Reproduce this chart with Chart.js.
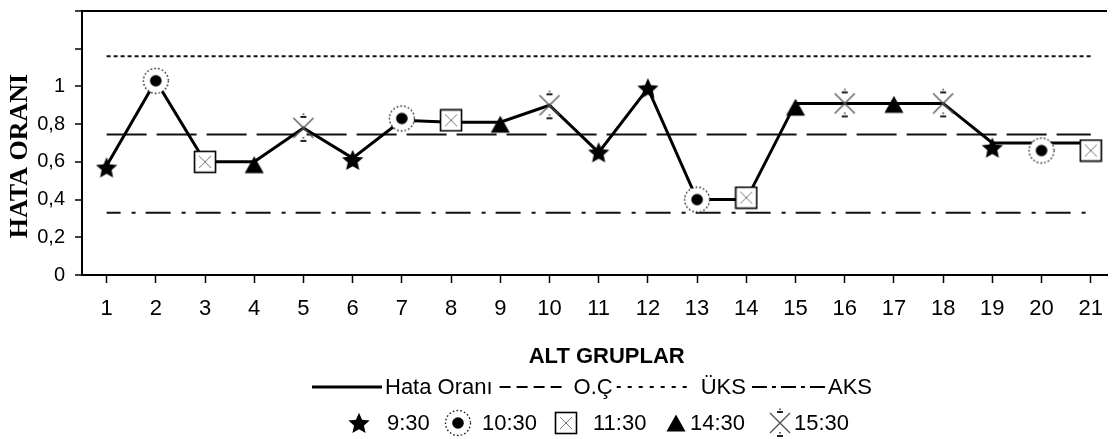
<!DOCTYPE html>
<html>
<head>
<meta charset="utf-8">
<script src="https://cdn.jsdelivr.net/npm/chart.js@4.4.1/dist/chart.umd.min.js"></script>
<style>
html,body{margin:0;padding:0;background:#fff;}
#c{display:block;}
</style>
</head>
<body>
<canvas id="c" width="1118" height="439"></canvas>
<script>
// ---- DATA ----
const groups = [1,2,3,4,5,6,7,8,9,10,11,12,13,14,15,16,17,18,19,20,21];
const hataOrani = [0.58,1.03,0.60,0.60,0.78,0.62,0.82,0.81,0.81,0.90,0.65,0.99,0.40,0.40,0.91,0.91,0.91,0.91,0.70,0.70,0.70];
const ortaCizgi = 0.745;   // O.Ç
const ustKontrol = 1.16;   // ÜKS
const altKontrol = 0.33;   // AKS
const refRange = [1, 21];

const g930  = [1, 6, 11, 12, 19];
const v930  = [0.57, 0.61, 0.65, 0.99, 0.675];
const g1030 = [2, 7, 13, 20];
const v1030 = [1.03, 0.83, 0.40, 0.66];
const g1130 = [3, 8, 14, 21];
const v1130 = [0.60, 0.82, 0.41, 0.66];
const g1430 = [4, 9, 15, 17];
const v1430 = [0.585, 0.80, 0.89, 0.905];
const g1530 = [5, 10, 16, 18];
const v1530 = [0.78, 0.90, 0.91, 0.91];

const yTicks = [0, 0.2, 0.4, 0.6, 0.8, 1];

// ---- MARKER IMAGES ----
function mk(w, h, draw) {
  const c = document.createElement('canvas');
  c.width = w; c.height = h;
  const g = c.getContext('2d');
  draw(g, w / 2, h / 2);
  return c;
}
const starImg = mk(24, 24, (g, cx, cy) => {
  g.beginPath();
  for (let i = 0; i < 10; i++) {
    const r = i % 2 ? 5.2 : 11.2;
    const a = -Math.PI / 2 + i * Math.PI / 5;
    g.lineTo(cx + r * Math.cos(a), cy + 1 + r * Math.sin(a));
  }
  g.closePath(); g.fillStyle = '#000'; g.fill();
});
const circImg = mk(30, 30, (g, cx, cy) => {
  g.beginPath(); g.arc(cx, cy, 12.5, 0, 2 * Math.PI); g.fillStyle = '#fff'; g.fill();
  g.setLineDash([1.6, 2.2]); g.lineWidth = 1.3; g.strokeStyle = '#111'; g.stroke();
  g.setLineDash([]);
  g.beginPath(); g.arc(cx, cy, 5.8, 0, 2 * Math.PI); g.fillStyle = '#000'; g.fill();
});
const sqImg = mk(24, 24, (g, cx, cy) => {
  g.fillStyle = '#fff'; g.fillRect(1.5, 1.5, 21, 21);
  g.strokeStyle = '#000'; g.lineWidth = 1.6; g.strokeRect(1.5, 1.5, 21, 21);
  g.strokeStyle = '#777'; g.lineWidth = 1;
  g.beginPath(); g.moveTo(6, 6); g.lineTo(18, 18); g.moveTo(18, 6); g.lineTo(6, 18); g.stroke();
});
const triImg = mk(22, 20, (g, cx, cy) => {
  g.beginPath(); g.moveTo(cx, 1.5); g.lineTo(20.5, 18.5); g.lineTo(1.5, 18.5); g.closePath();
  g.fillStyle = '#000'; g.fill();
});
const xImg = mk(26, 32, (g, cx, cy) => {
  g.strokeStyle = '#555'; g.lineWidth = 1.4;
  g.beginPath(); g.moveTo(cx - 10, cy - 10); g.lineTo(cx + 10, cy + 10);
  g.moveTo(cx + 10, cy - 10); g.lineTo(cx - 10, cy + 10); g.stroke();
  g.strokeStyle = '#222'; g.lineWidth = 2;
  g.beginPath(); g.moveTo(cx - 3, cy - 11); g.lineTo(cx + 3, cy - 11);
  g.moveTo(cx - 3, cy + 13); g.lineTo(cx + 3, cy + 13); g.stroke();
  g.fillStyle = '#444';
  g.fillRect(cx - 0.8, cy - 14.5, 1.6, 1.6);
  g.fillRect(cx - 0.8, cy + 9, 1.6, 1.6);
});

const F = '"Liberation Sans Narrow", "Arial Narrow", "Liberation Sans", Arial, sans-serif';

function pts(xs, ys) { return xs.map((x, i) => ({ x: x, y: ys[i] })); }
function hline(v) { return refRange.map(x => ({ x: x, y: v })); }

function markerSet(label, xs, ys, img) {
  return { label: label, data: pts(xs, ys), showLine: false, pointStyle: img,
           pointRadius: 10, pointHoverRadius: 10, order: 0, borderColor: '#000', backgroundColor: '#000' };
}

const datasets = [
  markerSet('9:30', g930, v930, starImg),
  markerSet('10:30', g1030, v1030, circImg),
  markerSet('11:30', g1130, v1130, sqImg),
  markerSet('14:30', g1430, v1430, triImg),
  markerSet('15:30', g1530, v1530, xImg),
  { label: 'Hata Oranı', data: pts(groups, hataOrani), borderColor: '#000', borderWidth: 3,
    pointRadius: 0, tension: 0, order: 1, fill: false },
  { label: 'O.Ç', data: hline(ortaCizgi), borderColor: '#111', borderWidth: 2, borderDash: [40, 10],
    pointRadius: 0, order: 2, fill: false },
  { label: 'ÜKS', data: hline(ustKontrol), borderColor: '#111', borderWidth: 2, borderDash: [4, 3],
    pointRadius: 0, order: 2, fill: false },
  { label: 'AKS', data: hline(altKontrol), borderColor: '#111', borderWidth: 2, borderDash: [25, 11, 4, 10],
    borderDashOffset: 11, pointRadius: 0, order: 2, fill: false }
];

const legendPlugin = {
  id: 'customLegend',
  afterDraw(chart) {
    const ctx = chart.ctx;
    ctx.save();
    ctx.fillStyle = '#000';
    ctx.strokeStyle = '#000';
    ctx.font = '22px ' + F;
    ctx.textBaseline = 'middle';
    ctx.textAlign = 'left';
    // row 1: line styles
    const row1 = [
      { label: 'Hata Oranı', dash: [], lw: 3, len: 70, gapA: 3, gapB: 7 },
      { label: 'O.Ç', dash: [11, 6], lw: 2, len: 67, gapA: 7, gapB: 4 },
      { label: 'ÜKS', dash: [4, 7], lw: 2, len: 76, gapA: 8, gapB: 6 },
      { label: 'AKS', dash: [15, 5, 4, 5], lw: 2, len: 73, gapA: 3, gapB: 0 }
    ];
    let x = 312; const y1 = 387;
    row1.forEach(it => {
      ctx.beginPath(); ctx.setLineDash(it.dash); ctx.lineWidth = it.lw;
      ctx.moveTo(x, y1); ctx.lineTo(x + it.len, y1); ctx.stroke();
      ctx.setLineDash([]);
      x += it.len + it.gapA;
      ctx.fillText(it.label, x, y1 + 1);
      x += ctx.measureText(it.label).width + it.gapB;
    });
    // row 2: markers
    const y2 = 423;
    const row2 = [
      { label: '9:30', img: starImg, cx: 359, tx: 387 },
      { label: '10:30', img: circImg, cx: 458, tx: 482 },
      { label: '11:30', img: sqImg, cx: 566, tx: 593 },
      { label: '14:30', img: triImg, cx: 676, tx: 690 },
      { label: '15:30', img: xImg, cx: 780, tx: 794 }
    ];
    row2.forEach(it => {
      ctx.drawImage(it.img, Math.round(it.cx - it.img.width / 2), Math.round(y2 - it.img.height / 2));
      ctx.fillText(it.label, it.tx, y2 + 1);
    });
    ctx.restore();
  }
};

new Chart(document.getElementById('c'), {
  type: 'line',
  data: { datasets: datasets },
  plugins: [legendPlugin],
  options: {
    responsive: false,
    animation: false,
    layout: { padding: { top: 9, right: 0, left: 0, bottom: 70 } },
    plugins: { legend: { display: false }, tooltip: { enabled: false } },
    scales: {
      x: {
        type: 'linear', min: 0.5, max: 21.33,
        ticks: { stepSize: 1, autoSkip: false, includeBounds: false, maxRotation: 0, padding: 13,
                 color: '#000', font: { family: F, size: 22 } },
        grid: { drawOnChartArea: false, tickLength: 8, tickColor: '#000', tickWidth: 1.5 },
        border: { color: '#000', width: 2 },
        title: { display: true, text: '    ALT GRUPLAR', color: '#000',
                 font: { family: F, size: 22, weight: 'bold', lineHeight: 1 }, padding: { top: 0, bottom: 1 } },
        afterFit(s) { s.height = 94; s.paddingLeft = 0; s.paddingRight = 0; }
      },
      y: {
        type: 'linear', min: 0, max: 1.4,
        ticks: { stepSize: 0.2, autoSkip: false, padding: 10, color: '#000', font: { family: F, size: 20 },
                 callback: (v) => {
                   const r = Math.round(v * 10) / 10;
                   return yTicks.some(t => Math.abs(t - r) < 1e-6) ? String(r).replace('.', ',') : '';
                 } },
        grid: { drawOnChartArea: true, lineWidth: 2, tickColor: '#000', tickLength: 7, tickWidth: 1.5,
                color: (c) => (c.tick && Math.abs(c.tick.value - 1.4) < 1e-6) ? '#000' : 'rgba(0,0,0,0)' },
        border: { color: '#000', width: 2 },
        title: { display: true, text: 'HATA ORANI    ', color: '#000',
                 font: { family: '"Liberation Serif", "Times New Roman", serif', size: 26, weight: 'bold' },
                 padding: { top: 5, bottom: 0 } },
        afterFit(s) { s.width = 82; s.paddingTop = 0; s.paddingBottom = 0; }
      }
    }
  }
});
</script>
</body>
</html>
